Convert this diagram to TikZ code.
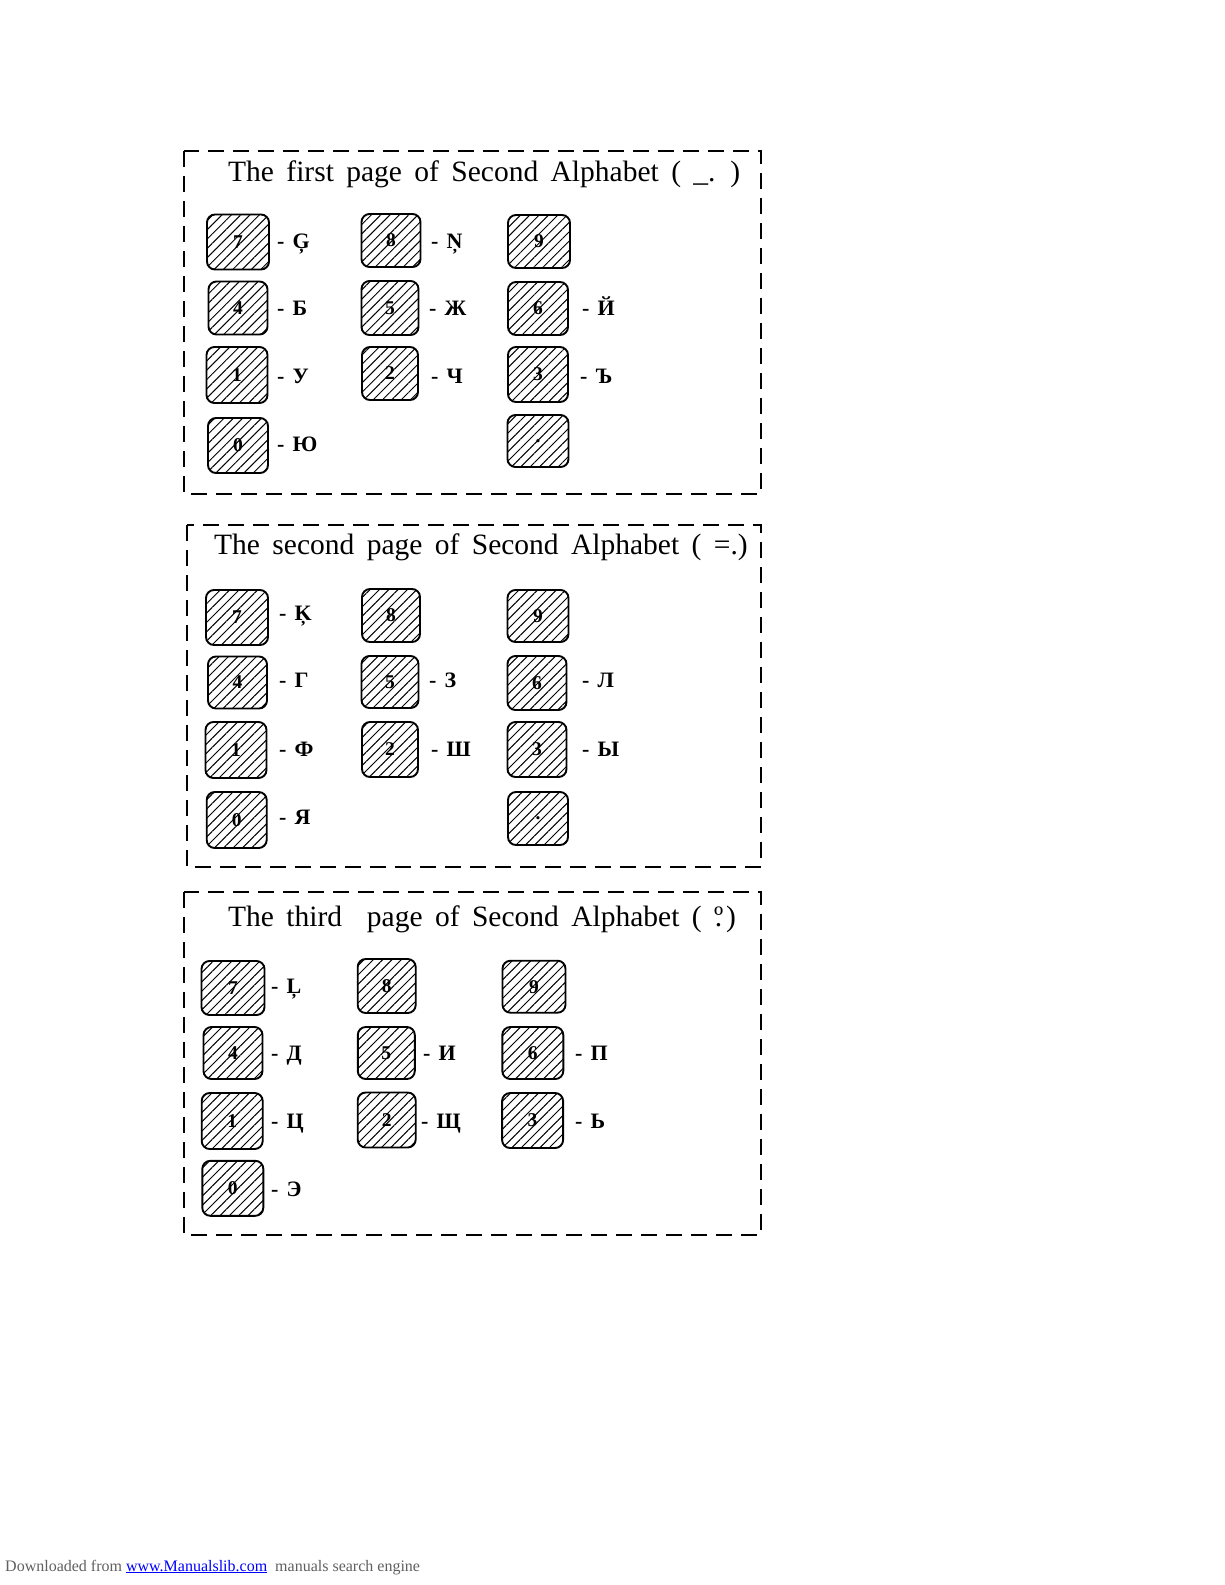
\documentclass[tikz,border=0pt]{standalone}
\usepackage{fontspec}
\setmainfont{Liberation Serif}
\usetikzlibrary{patterns.meta}
\newcommand\ordsym{{\ooalign{\hfil º\hfil\cr\hfil.\hfil\cr}}}
\newcommand\ttlfont{\fontsize{29.5}{30}\selectfont\spaceskip 12.4pt\relax}
\tikzset{
  panel/.style={draw, line width=1.8pt, dash pattern=on 16pt off 9pt},
  keybox/.style={draw, line width=1.9pt, rounded corners=8pt, inner sep=0pt,
    pattern={Lines[angle=45,distance=6.6pt,line width=1pt]},
    font=\fontsize{19.5}{20}\bfseries\selectfont},
  lab/.style={anchor=base west, inner sep=0pt, font=\fontsize{22}{22}\bfseries\selectfont},
  ttl/.style={anchor=base west, inner sep=0pt, font=\ttlfont},
  foot/.style={anchor=base west, inner sep=0pt, font=\fontsize{16}{16}\selectfont},
}
\newcommand\keyat[6]{\node[keybox, minimum width=#4pt, minimum height=#5pt] (#1) at (#2,#3) {#6};}
\newcommand\labat[4]{\node[lab] (#1) at (#2,#3) {-\hspace{8pt}#4};}
\begin{document}
\begin{tikzpicture}[x=1pt,y=-1pt]
\useasboundingbox[fill=white] (0,0) rectangle (1225,1585);

% ---------- panel 1 ----------
\draw[panel] (184,151) rectangle (761,494);
\node[ttl] (t1) at (228,181) {The first page of Second Alphabet ( \_. )};
\keyat{a7}{238}{242}{62}{55}{7}
\keyat{a8}{391}{240.5}{59}{53}{8}
\keyat{a9}{539}{241.5}{62}{53}{9}
\keyat{a4}{238}{308}{59}{53}{4}
\keyat{a5}{390}{308}{57}{54}{5}
\keyat{a6}{538}{308.5}{60}{53}{6}
\keyat{a1}{237}{375}{61}{56}{1}
\keyat{a2}{390}{373.5}{56}{53}{2}
\keyat{a3}{538}{374.5}{60}{55}{3}
\keyat{a0}{238}{445.5}{60}{55}{0}
\keyat{ad}{538}{441}{61}{52}{.}
\labat{la7}{277}{248}{Ģ}
\labat{la8}{431}{248}{Ņ}
\labat{la4}{277}{315}{Б}
\labat{la5}{429}{315}{Ж}
\labat{la6}{582}{315}{Й}
\labat{la1}{277}{383}{У}
\labat{la2}{431}{383}{Ч}
\labat{la3}{580}{383}{Ъ}
\labat{la0}{277}{451}{Ю}

% ---------- panel 2 ----------
\draw[panel] (187,525) rectangle (761,867);
\node[ttl] (t2) at (214,554) {The second page of Second Alphabet ( =.)};
\keyat{b7}{237}{617.5}{62}{55}{7}
\keyat{b8}{391}{615.5}{58}{53}{8}
\keyat{b9}{538}{616}{61}{52}{9}
\keyat{b4}{237.5}{682.5}{59}{52}{4}
\keyat{b5}{390}{682}{57}{52}{5}
\keyat{b6}{537}{683}{59}{54}{6}
\keyat{b1}{236}{750}{61}{56}{1}
\keyat{b2}{390}{749.5}{56}{55}{2}
\keyat{b3}{537}{749.5}{59}{55}{3}
\keyat{b0}{236.7}{820}{60}{56}{0}
\keyat{bd}{538}{818.5}{60}{53}{.}
\labat{lb7}{279}{620}{Ķ}
\labat{lb4}{279}{687}{Г}
\labat{lb5}{429}{687}{З}
\labat{lb6}{582}{687}{Л}
\labat{lb1}{279}{756}{Ф}
\labat{lb2}{431}{756}{Ш}
\labat{lb3}{582}{756}{Ы}
\labat{lb0}{279}{824}{Я}

% ---------- panel 3 ----------
\draw[panel] (184,892) rectangle (761,1235);
\node[ttl] (t3) at (228,926) {The third\hspace{12.4pt} page of Second Alphabet ( \ordsym\hspace{3pt})};
\keyat{c7}{233}{988}{63}{54}{7}
\keyat{c8}{386.7}{986}{58}{54}{8}
\keyat{c9}{534}{986.7}{63}{52}{9}
\keyat{c4}{233}{1053}{59}{52}{4}
\keyat{c5}{386.3}{1053}{57}{52}{5}
\keyat{c6}{532.8}{1053}{61}{52}{6}
\keyat{c1}{232.2}{1121}{61}{56}{1}
\keyat{c2}{386.7}{1120}{58}{55}{2}
\keyat{c3}{532.6}{1120.5}{61}{55}{3}
\keyat{c0}{232.8}{1188.3}{61}{55}{0}
\labat{lc7}{271}{993}{Ļ}
\labat{lc4}{271}{1060}{Д}
\labat{lc5}{423}{1060}{И}
\labat{lc6}{575}{1060}{П}
\labat{lc1}{271}{1128}{Ц}
\labat{lc2}{421}{1128}{Щ}
\labat{lc3}{575}{1128}{Ь}
\labat{lc0}{271}{1196}{Э}

% ---------- footer ----------
\node[foot] (f) at (5,1571) {\color[HTML]{606060}Downloaded from \textcolor[HTML]{0000FF}{\underline{www.Manualslib.com}}\ \ manuals search engine};
\end{tikzpicture}
\end{document}
